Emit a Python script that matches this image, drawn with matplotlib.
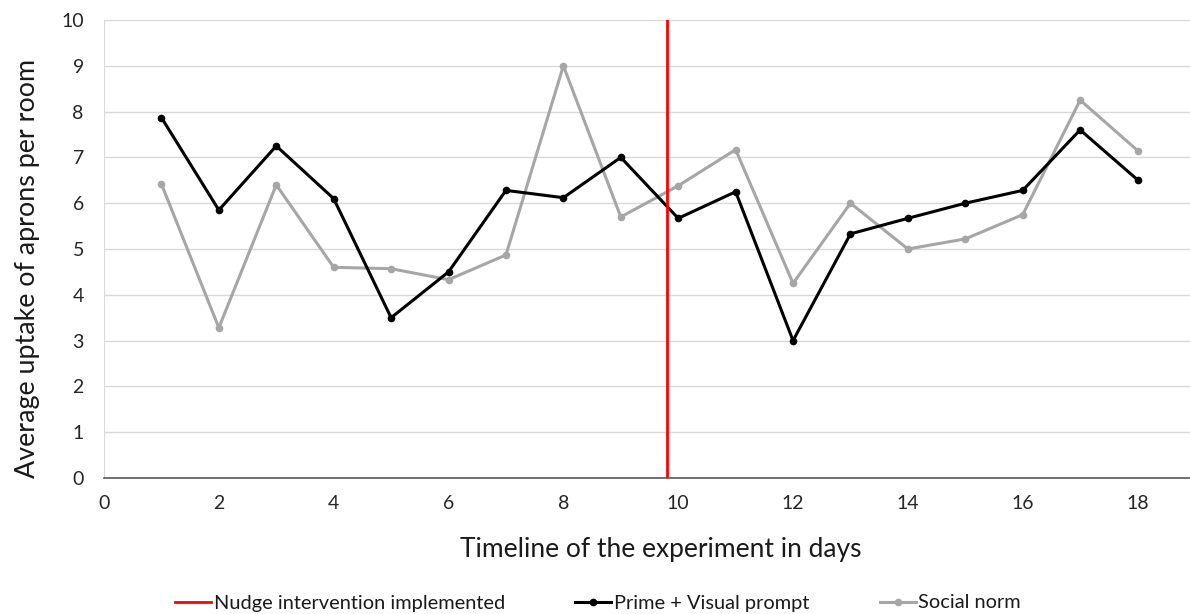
import matplotlib.pyplot as plt
import numpy as np
from matplotlib.lines import Line2D

plt.rcParams['font.family'] = ['Lato', 'DejaVu Sans']

days = np.arange(1, 19)
prime_visual = [7.87, 5.85, 7.25, 6.1, 3.5, 4.5, 6.28, 6.12, 7.0, 5.67, 6.25, 3.0, 5.33, 5.67, 6.0, 6.28, 7.6, 6.51]
social_norm = [6.42, 3.28, 6.4, 4.6, 4.57, 4.33, 4.87, 9.0, 5.7, 6.38, 7.17, 4.25, 6.0, 5.0, 5.22, 5.75, 8.25, 7.15]
nudge_day = 9.81

fig = plt.figure(figsize=(11.9, 6.14), dpi=100)
ax = fig.add_axes([104 / 1190, 136 / 614, 1091 / 1190, 458 / 614])

ax.plot(days, prime_visual, color='black', lw=2.2, marker='o', ms=4.5, zorder=3)
ax.plot(days, social_norm, color='#a6a6a6', lw=2.2, marker='o', ms=4.5, zorder=2)
ax.axvline(nudge_day, color='#ff0000', lw=2, zorder=4)

ax.set_xlim(0, 19)
ax.set_ylim(0, 10)
ax.set_xticks(np.arange(0, 19, 2))
ax.set_yticks(np.arange(0, 11, 1))
ax.tick_params(length=0, labelsize=14, colors='#262626')
ax.tick_params(axis='y', pad=14.5)
ax.tick_params(axis='x', pad=12)
ax.grid(axis='y', color='#d9d9d9', lw=1)
ax.set_axisbelow(True)
for s in ['top', 'right']:
    ax.spines[s].set_visible(False)
ax.spines['left'].set_color('#d9d9d9')
ax.spines['bottom'].set_color('#595959')
ax.spines['bottom'].set_linewidth(1.2)

fig.text(661 / 1190, 1 - 549 / 614, 'Timeline of the experiment in days', ha='center', va='center', fontsize=19, color='#1a1a1a')
fig.text(28 / 1190, 1 - 268 / 614, 'Average uptake of aprons per room', ha='center', va='center', rotation=90, fontsize=19.4, color='#1a1a1a')

handles = [
    Line2D([], [], color='#ff0000', lw=2),
    Line2D([], [], color='black', lw=2.2, marker='o', ms=4.5),
    Line2D([], [], color='#a6a6a6', lw=2.2, marker='o', ms=4.5),
]
labels = ['Nudge intervention implemented', 'Prime + Visual prompt', 'Social norm']
fig.legend(handles, labels, loc='center', bbox_to_anchor=(598 / 1190, 1 - 603 / 614), ncol=3,
           frameon=False, fontsize=14.4, handlelength=1.8, handletextpad=0.15, columnspacing=3.5,
           labelcolor='#1a1a1a')

fig.savefig('out.png', dpi=100)
